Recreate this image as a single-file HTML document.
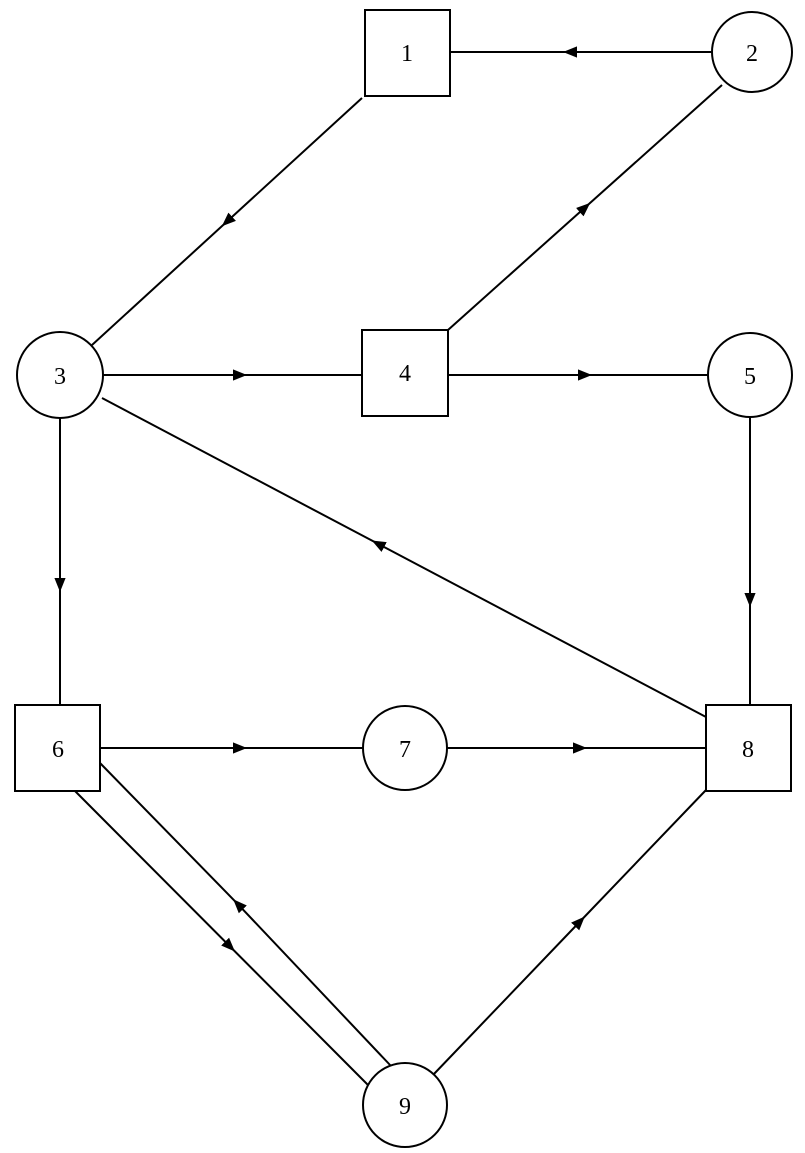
<!DOCTYPE html>
<html><head><meta charset="utf-8"><style>html,body{margin:0;padding:0;background:#fff}</style></head>
<body>
<svg width="805" height="1148" viewBox="0 0 805 1148" xmlns="http://www.w3.org/2000/svg">
<defs>
<marker id="a" viewBox="0 0 10 10" refX="5" refY="5" markerWidth="14" markerHeight="14" markerUnits="userSpaceOnUse" orient="auto">
<path d="M0,1 L10,5 L0,9 z" fill="#000"/>
</marker>
</defs>
<g stroke="#000" stroke-width="2" fill="none">
<path d="M712,52 L570,52 L450,52" marker-mid="url(#a)"/>
<path d="M362,98 L227,221.5 L92,345" marker-mid="url(#a)"/>
<path d="M448,330 L585,207.5 L722,85" marker-mid="url(#a)"/>
<path d="M103,375 L240,375 L362,375" marker-mid="url(#a)"/>
<path d="M448,375 L585,375 L708,375" marker-mid="url(#a)"/>
<path d="M706,717 L378,543.8 L102,398" marker-mid="url(#a)"/>
<path d="M750,417 L750,600 L750,705" marker-mid="url(#a)"/>
<path d="M60,418 L60,585 L60,705" marker-mid="url(#a)"/>
<path d="M100,748 L240,748 L363,748" marker-mid="url(#a)"/>
<path d="M447,748 L580,748 L706,748" marker-mid="url(#a)"/>
<path d="M433,1075 L580,921.5 L706,790" marker-mid="url(#a)"/>
<path d="M74,790 L230,946.5 L368,1085" marker-mid="url(#a)"/>
<path d="M391,1066 L238,904.3 L100,763" marker-mid="url(#a)"/>
</g>
<g stroke="#000" stroke-width="2" fill="#fff">
<rect x="365" y="10" width="85" height="86"/>
<circle cx="752" cy="52" r="40"/>
<circle cx="60" cy="375" r="43"/>
<rect x="362" y="330" width="86" height="86"/>
<circle cx="750" cy="375" r="42"/>
<rect x="15" y="705" width="85" height="86"/>
<circle cx="405" cy="748" r="42"/>
<rect x="706" y="705" width="85" height="86"/>
<circle cx="405" cy="1105" r="42"/>
</g>
<g font-family="Liberation Serif, serif" font-size="24" text-anchor="middle" fill="#000">
<text x="407" y="61">1</text>
<text x="752" y="61">2</text>
<text x="60" y="384">3</text>
<text x="405" y="381">4</text>
<text x="750" y="384">5</text>
<text x="58" y="757">6</text>
<text x="405" y="757">7</text>
<text x="748" y="757">8</text>
<text x="405" y="1114">9</text>
</g>
</svg>
</body></html>
